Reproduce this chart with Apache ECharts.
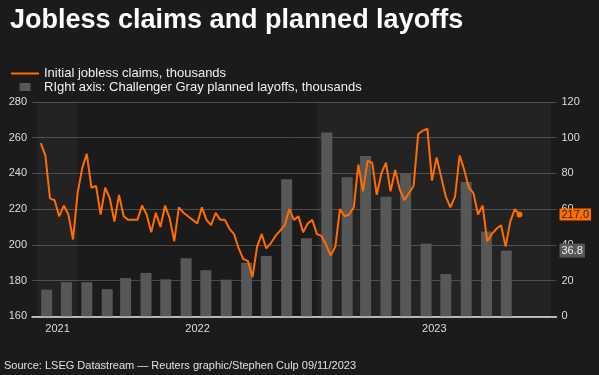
<!DOCTYPE html>
<html><head><meta charset="utf-8">
<script src="https://cdn.jsdelivr.net/npm/echarts@6/dist/echarts.min.js"></script>
<style>html,body{margin:0;padding:0;background:#1b1b1b;}#c{width:599px;height:375px;}</style>
</head><body><div id="c"></div>
<script>
// ---- data ----
const titleText = 'Jobless claims and planned layoffs';
const sourceText = 'Source: LSEG Datastream \u2014 Reuters graphic/Stephen Culp 09/11/2023';
const claimsName = 'Initial jobless claims, thousands';
const layoffsName = 'RIght axis: Challenger Gray planned layoffs, thousands';

// weekly initial claims (thousands), weeks ending Saturday from 2021-11-06
const claimsFirstWeek = '2021-11-06';
const claims = [
  257, 250, 226, 225, 216, 222, 217, 203, 229, 243,
  251, 232, 233, 217, 232, 226, 213, 228, 216, 214,
  214, 214, 222, 217, 207, 218, 210, 222, 215, 202,
  221, 218, 216, 214, 212, 221, 214, 211, 218, 214,
  214, 209, 206, 198, 192, 191, 182, 199, 206, 198,
  201, 205, 208, 211, 220, 214, 216, 207, 212, 214,
  206, 205, 200, 194, 199, 220, 216, 217, 221, 245,
  230, 247, 246, 228, 240, 246, 230, 242, 231, 225,
  229, 233, 262, 264, 265, 236, 249, 238, 227, 221,
  227, 250, 242, 232, 229, 217, 222, 202, 206, 209,
  211, 199, 213, 220, 217
];

// monthly Challenger planned layoffs (thousands)
const layoffMonths = [
  '2021-11','2021-12','2022-01','2022-02','2022-03','2022-04','2022-05','2022-06',
  '2022-07','2022-08','2022-09','2022-10','2022-11','2022-12','2023-01','2023-02',
  '2023-03','2023-04','2023-05','2023-06','2023-07','2023-08','2023-09','2023-10'
];
const layoffs = [
  14.9, 19.1, 19.1, 15.2, 21.4, 24.3, 20.7, 32.5,
  25.8, 20.5, 30.0, 33.8, 76.8, 43.7, 102.9, 77.8,
  89.7, 67.0, 80.1, 40.7, 23.7, 75.2, 47.5, 36.8
];

const xRange = ['2021-11-01', '2023-12-22'];
const yearLabels = ['2021', '2022', '2023'];
const yearStarts = ['2021-11-01', '2022-01-01', '2023-01-01', '2023-12-22'];
const leftTicks = [160, 180, 200, 220, 240, 260, 280];
const rightTicks = [0, 20, 40, 60, 80, 100, 120];

// ---- build ----
function pad(n){ return (n < 10 ? '0' : '') + n; }
function addDays(iso, d){
  const p = iso.split('-').map(Number);
  const t = new Date(Date.UTC(p[0], p[1]-1, p[2] + d));
  return t.getUTCFullYear() + '-' + pad(t.getUTCMonth()+1) + '-' + pad(t.getUTCDate());
}
const ORANGE = '#ff6d00';
const BAR = '#575757';
const claimsData = claims.map((v, i) => {
  const item = { value: [addDays(claimsFirstWeek, 7*i), v] };
  if (i === claims.length - 1) {
    item.symbol = 'circle'; item.symbolSize = 6;
    item.itemStyle = { color: ORANGE };
  }
  return item;
});
const layoffData = layoffs.map((v, i) => [layoffMonths[i] + '-15', v]);

const bands = yearLabels.map((y, i) => [
  { xAxis: yearStarts[i], name: y,
    itemStyle: { color: i % 2 === 0 ? 'rgba(255,255,255,0.035)' : 'rgba(0,0,0,0)' } },
  { xAxis: yearStarts[i+1] }
]);

const FONT = '"Liberation Sans", Arial, sans-serif';
const chart = echarts.init(document.getElementById('c'), null, { renderer: 'canvas' });
chart.setOption({
  backgroundColor: '#1b1b1b',
  animation: false,
  textStyle: { fontFamily: FONT },
  title: [
    { text: titleText, left: 10, top: 6, padding: 0,
      textStyle: { color: '#ffffff', fontSize: 27, fontWeight: 'bold', fontFamily: FONT, lineHeight: 30 } },
    { text: sourceText, left: 4, top: 359, padding: 0,
      textStyle: { color: '#e0e0e0', fontSize: 11, fontWeight: 'normal', fontFamily: FONT, lineHeight: 13 } }
  ],
  legend: {
    orient: 'vertical', left: 11, top: 67, padding: 0,
    itemWidth: 28, itemHeight: 8, itemGap: 0.5,
    textStyle: { color: '#f0f0f0', fontSize: 13, fontFamily: FONT, lineHeight: 13 },
    data: [
      { name: claimsName, icon: 'path://M0,0H28V2H0Z', itemStyle: { color: ORANGE } },
      { name: layoffsName, icon: 'path://M0,0H11V8H0Z', itemStyle: { color: BAR } }
    ]
  },
  grid: { left: 32, right: 42.5, top: 102, bottom: 58.7, containLabel: false },
  xAxis: {
    type: 'time', min: xRange[0], max: xRange[1],
    axisLine: { show: true, lineStyle: { color: '#e6e6e6', width: 1.5 } },
    axisTick: { show: false }, axisLabel: { show: false }, splitLine: { show: false }
  },
  yAxis: [
    { type: 'value', min: leftTicks[0], max: leftTicks[leftTicks.length-1], interval: leftTicks[1]-leftTicks[0],
      axisLine: { show: false }, axisTick: { show: false },
      axisLabel: { color: '#dcdcdc', fontSize: 11, margin: 5, fontFamily: FONT },
      splitLine: { lineStyle: { color: '#4a4a4a', width: 1 } } },
    { type: 'value', min: rightTicks[0], max: rightTicks[rightTicks.length-1], interval: rightTicks[1]-rightTicks[0],
      position: 'right',
      axisLine: { show: false }, axisTick: { show: false },
      axisLabel: { color: '#dcdcdc', fontSize: 11, margin: 5, fontFamily: FONT },
      splitLine: { show: false } }
  ],
  series: [
    { name: layoffsName, type: 'bar', yAxisIndex: 1, data: layoffData, barWidth: 11,
      itemStyle: { color: BAR }, z: 2,
      markLine: {
        silent: true, symbol: 'none', lineStyle: { color: 'rgba(0,0,0,0)', width: 0.01 },
        data: [{ yAxis: layoffs[layoffs.length-1] }],
        label: { show: true, position: 'end', distance: 3, formatter: p => p.value.toFixed(1),
          color: '#f0f0f0', backgroundColor: BAR, padding: [2, 2, 1, 2], fontSize: 11, fontFamily: FONT }
      }
    },
    { name: claimsName, type: 'line', yAxisIndex: 0, data: claimsData, symbol: 'none',
      lineStyle: { color: ORANGE, width: 2 }, itemStyle: { color: ORANGE }, z: 3,
      markArea: {
        silent: true, data: bands,
        label: { position: 'bottom', distance: 7, color: '#dcdcdc', fontSize: 11, fontFamily: FONT }
      },
      markLine: {
        silent: true, symbol: 'none', lineStyle: { color: 'rgba(0,0,0,0)', width: 0.01 },
        data: [{ yAxis: claims[claims.length-1] }],
        label: { show: true, position: 'end', distance: 3, formatter: p => p.value.toFixed(1),
          color: '#2a2a2a', backgroundColor: ORANGE, padding: [1, 2, 0, 2], fontSize: 11, fontFamily: FONT }
      }
    }
  ]
});
</script></body></html>
